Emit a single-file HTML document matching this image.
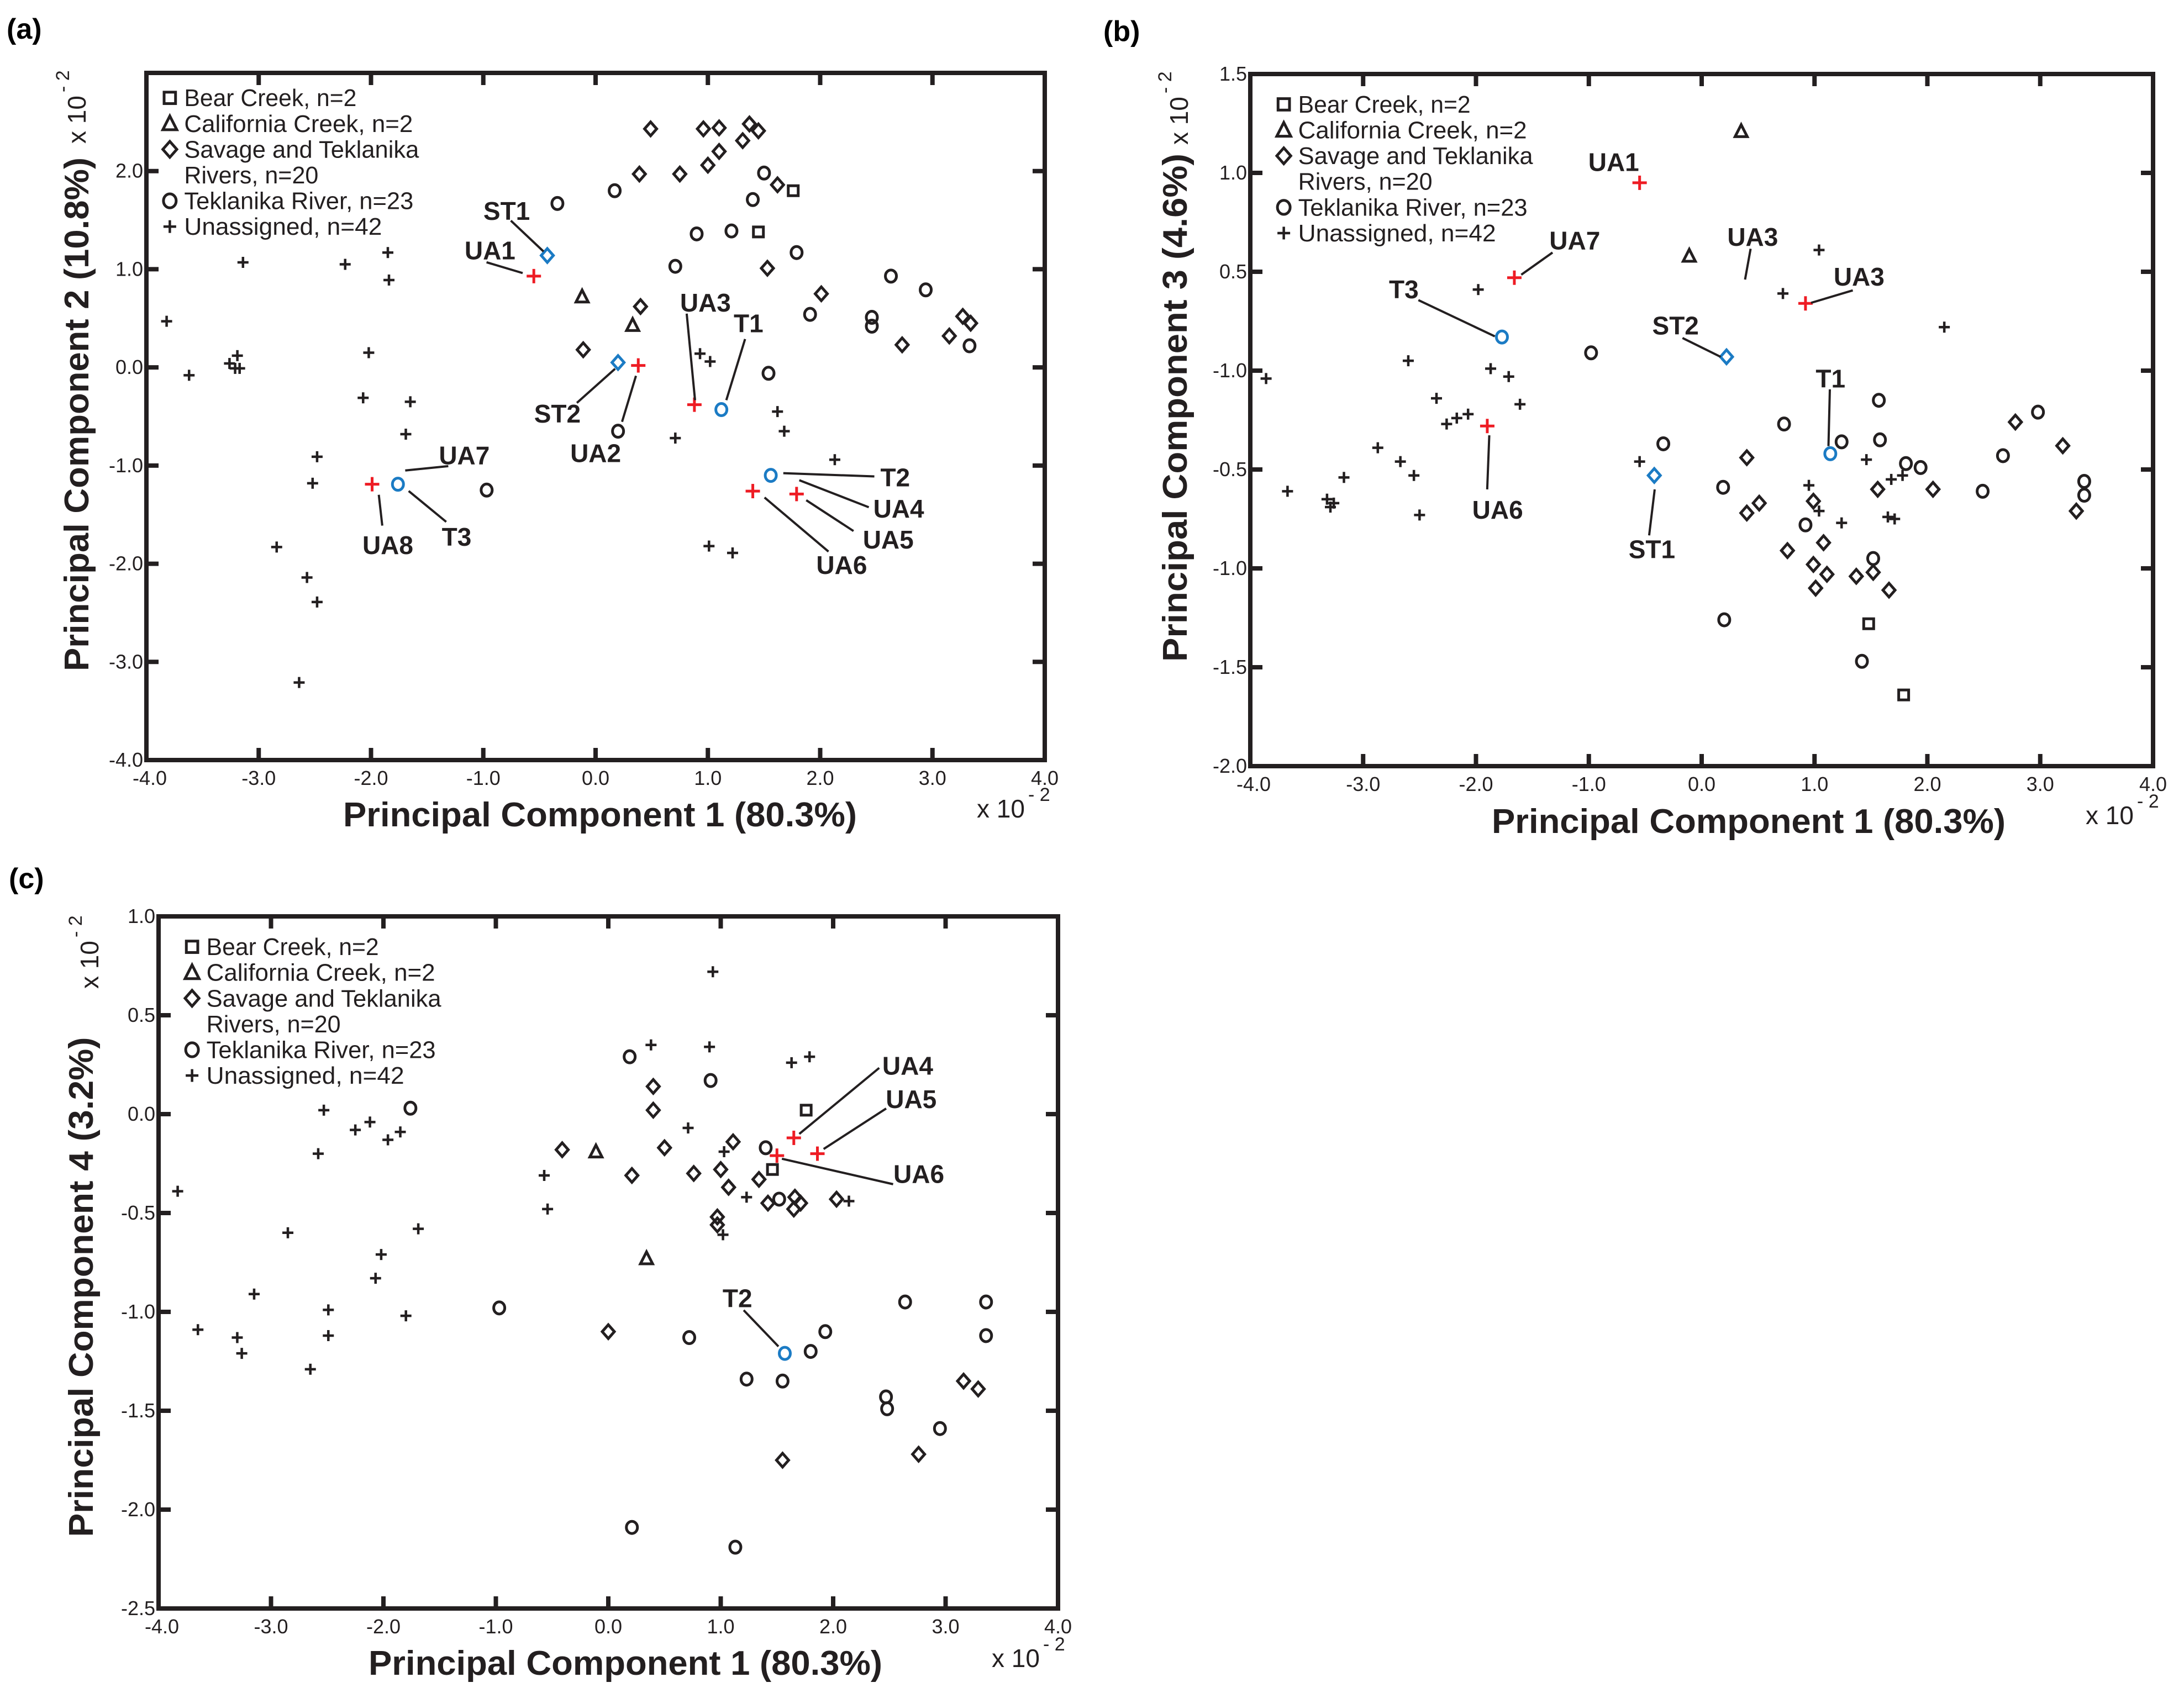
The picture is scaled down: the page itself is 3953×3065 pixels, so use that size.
<!DOCTYPE html>
<html><head><meta charset="utf-8"><style>
html,body{margin:0;padding:0;background:#fff}
svg{display:block}
</style></head><body>
<svg id="fig" width="3953" height="3065" viewBox="0 0 3953 3065" xmlns="http://www.w3.org/2000/svg" font-family="'Liberation Sans', sans-serif"></svg>
<script>
// ---------- Panel (a): PC1 vs PC2 ----------
const aPlus=[[-3.82,0.47],[-3.62,-0.08],[-3.14,1.07],[-3.26,0.04],[-3.19,0.12],[-3.21,-0.01],[-3.17,-0.01],[-2.23,1.05],[-1.85,1.17],[-1.84,0.89],[-2.02,0.15],[-2.07,-0.31],[-1.65,-0.35],[-1.69,-0.68],[-2.48,-0.91],[-2.52,-1.18],[-2.84,-1.83],[-2.57,-2.14],[-2.48,-2.39],[-2.64,-3.21],[0.93,0.14],[1.02,0.06],[0.71,-0.72],[1.62,-0.45],[1.68,-0.65],[2.13,-0.94],[1.01,-1.82],[1.22,-1.89]];
const aRed=[[-0.55,0.93],[0.38,0.02],[0.88,-0.38],[-1.99,-1.19],[1.40,-1.26],[1.79,-1.29]];
const aCircle=[[-0.34,1.67],[0.17,1.80],[0.90,1.36],[1.21,1.39],[0.71,1.03],[1.50,1.98],[1.40,1.71],[1.79,1.17],[1.91,0.54],[2.46,0.51],[2.46,0.42],[2.63,0.93],[2.94,0.79],[3.33,0.22],[1.54,-0.06],[0.20,-0.65],[-0.97,-1.25]];
const aBlueCircle=[[1.12,-0.43],[1.56,-1.10],[-1.76,-1.19]];
const aDiamond=[[0.49,2.43],[0.96,2.43],[1.10,2.44],[1.37,2.48],[1.45,2.41],[1.31,2.31],[1.10,2.20],[1.00,2.06],[0.39,1.97],[0.75,1.97],[1.62,1.86],[1.53,1.01],[2.01,0.75],[0.40,0.62],[-0.11,0.18],[2.73,0.23],[3.15,0.32],[3.27,0.52],[3.34,0.45]];
const aBlueDiamond=[[-0.43,1.14],[0.20,0.05]];
const aSquare=[[1.76,1.80],[1.45,1.38]];
const aTriangle=[[-0.12,0.72],[0.33,0.43]];
const aYTicks=[2.0,1.0,0.0,-1.0,-2.0,-3.0,-4.0];
const aYTickLabels=['2.0','1.0','0.0','-1.0','-2.0','-3.0','-4.0'];

// ---------- Panel (b): PC1 vs PC3 ----------
const bPlus=[[-3.86,-0.04],[-3.67,-0.61],[-3.32,-0.65],[-3.29,-0.69],[-3.26,-0.67],[-3.17,-0.54],[-2.87,-0.39],[-2.67,-0.46],[-2.55,-0.53],[-2.50,-0.73],[-2.60,0.05],[-2.35,-0.14],[-2.26,-0.27],[-2.17,-0.24],[-2.07,-0.22],[-1.98,0.41],[-1.87,0.01],[-1.71,-0.03],[-1.61,-0.17],[-0.55,-0.46],[0.72,0.39],[1.04,0.61],[2.15,0.22],[0.95,-0.58],[1.04,-0.71],[1.24,-0.77],[1.46,-0.45],[1.68,-0.55],[1.78,-0.53],[1.65,-0.74],[1.71,-0.75]];
const bRed=[[-0.55,0.95],[-1.66,0.47],[0.92,0.34],[-1.90,-0.28]];
const bCircle=[[-0.98,0.09],[0.73,-0.27],[1.57,-0.15],[1.24,-0.36],[1.58,-0.35],[-0.34,-0.37],[0.19,-0.59],[1.81,-0.47],[1.94,-0.49],[0.92,-0.78],[1.52,-0.95],[0.20,-1.26],[1.42,-1.47],[2.67,-0.43],[2.98,-0.21],[2.49,-0.61],[3.39,-0.56],[3.39,-0.63]];
const bBlueCircle=[[-1.77,0.17],[1.14,-0.42]];
const bDiamond=[[0.40,-0.44],[0.40,-0.72],[0.51,-0.67],[0.99,-0.66],[0.76,-0.91],[1.08,-0.87],[0.99,-0.98],[1.11,-1.03],[1.01,-1.10],[1.37,-1.04],[1.52,-1.02],[1.66,-1.11],[1.56,-0.60],[2.05,-0.60],[2.78,-0.26],[3.20,-0.38],[3.32,-0.71]];
const bBlueDiamond=[[0.22,0.07],[-0.42,-0.53]];
const bSquare=[[1.48,-1.28],[1.79,-1.64]];
const bTriangle=[[0.35,1.21],[-0.11,0.58]];
const bYTicks=[1.5,1.0,0.5,0.0,-0.5,-1.0,-1.5,-2.0];
const bYTickLabels=['1.5','1.0','0.5','-1.0','-0.5','-1.0','-1.5','-2.0'];

// ---------- Panel (c): PC1 vs PC4 ----------
const cPlus=[[-3.83,-0.39],[-3.65,-1.09],[-3.30,-1.13],[-3.26,-1.21],[-3.15,-0.91],[-2.85,-0.60],[-2.65,-1.29],[-2.58,-0.20],[-2.53,0.02],[-2.49,-0.99],[-2.49,-1.12],[-2.25,-0.08],[-2.12,-0.04],[-2.07,-0.83],[-2.02,-0.71],[-1.96,-0.13],[-1.85,-0.09],[-1.80,-1.02],[-1.69,-0.58],[-0.57,-0.31],[-0.54,-0.48],[0.38,0.35],[0.90,0.34],[0.93,0.72],[0.71,-0.07],[1.03,-0.19],[1.23,-0.42],[1.02,-0.61],[1.63,0.26],[1.79,0.29],[2.14,-0.44]];
const cRed=[[1.65,-0.12],[1.86,-0.20],[1.50,-0.21]];
const cCircle=[[-1.76,0.03],[0.19,0.29],[0.91,0.17],[1.40,-0.17],[1.52,-0.43],[-0.97,-0.98],[0.72,-1.13],[1.23,-1.34],[1.55,-1.35],[1.80,-1.20],[1.93,-1.10],[2.64,-0.95],[3.36,-0.95],[3.36,-1.12],[2.47,-1.43],[2.48,-1.49],[2.95,-1.59],[0.21,-2.09],[1.13,-2.19]];
const cBlueCircle=[[1.57,-1.21]];
const cDiamond=[[-0.41,-0.18],[0.21,-0.31],[0.40,0.14],[0.40,0.02],[0.50,-0.17],[0.76,-0.30],[1.00,-0.28],[1.07,-0.37],[1.11,-0.14],[1.34,-0.33],[1.42,-0.45],[0.97,-0.52],[0.97,-0.56],[1.66,-0.42],[1.71,-0.45],[1.65,-0.48],[2.03,-0.43],[0.00,-1.10],[1.55,-1.75],[2.76,-1.72],[3.16,-1.35],[3.29,-1.39]];
const cBlueDiamond=[];
const cSquare=[[1.76,0.02],[1.46,-0.28]];
const cTriangle=[[-0.11,-0.19],[0.34,-0.73]];
const cYTicks=[1.0,0.5,0.0,-0.5,-1.0,-1.5,-2.0,-2.5];
const cYTickLabels=['1.0','0.5','0.0','-0.5','-1.0','-1.5','-2.0','-2.5'];

const xTicks=[-4,-3,-2,-1,0,1,2,3,4];
const xTickLabels=['-4.0','-3.0','-2.0','-1.0','0.0','1.0','2.0','3.0','4.0'];

const NS='http://www.w3.org/2000/svg';
const svg=document.getElementById('fig');
const BLUE='#1b7bc4', RED='#ee1c24';
function mk(tag,attrs,parent){const e=document.createElementNS(NS,tag);for(const k in attrs)e.setAttribute(k,attrs[k]);(parent||svg).appendChild(e);return e;}

function drawPanel(cfg){
  const g=mk('g',{});
  
  
  const sx=v=>cfg.L+(v-(-4))/8*(cfg.R-cfg.L);
  const sy=v=>cfg.T+(cfg.ymax-v)/(cfg.ymax-cfg.ymin)*(cfg.B-cfg.T);
  const Z=(zx,zy)=>[cfg.ox+zx*1.258, cfg.oy+zy*0.979];
  const pl=mk('text',{x:cfg.letter[0],y:cfg.letter[1],'font-size':52,'font-weight':'bold'},g);
  pl.textContent='('+cfg.id+')';
  
  
  const box=mk('rect',{x:cfg.L,y:cfg.T,width:cfg.R-cfg.L,height:cfg.B-cfg.T,fill:'none',stroke:'#231f20','stroke-width':8},g);
  
  
  xTicks.forEach((v,i)=>{
    const x=sx(v);
    if(i>0&&i<xTicks.length-1){
      mk('line',{x1:x,y1:cfg.T,x2:x,y2:cfg.T+22,stroke:'#231f20','stroke-width':8},g);
      mk('line',{x1:x,y1:cfg.B,x2:x,y2:cfg.B-22,stroke:'#231f20','stroke-width':8},g);
    }
    const t=mk('text',{x:x+(i==0?6:0),y:cfg.B+45,'font-size':36,'text-anchor':'middle',fill:'#231f20'},g);
    t.textContent=xTickLabels[i];
    
    
  });
  cfg.yt.forEach((v,i)=>{
    const y=sy(v);
    if(v<cfg.ymax-0.01&&v>cfg.ymin+0.01){
      mk('line',{x1:cfg.L,y1:y,x2:cfg.L+22,y2:y,stroke:'#231f20','stroke-width':8},g);
      mk('line',{x1:cfg.R,y1:y,x2:cfg.R-22,y2:y,stroke:'#231f20','stroke-width':8},g);
    }
    const t=mk('text',{x:cfg.L-6,y:y+12,'font-size':36,'text-anchor':'end',fill:'#231f20'},g);
    t.textContent=cfg.ytl[i];
    
    
  });
  const xt=mk('text',{x:cfg.xTitle[0],y:cfg.xTitle[1],'font-size':62,'font-weight':'bold','text-anchor':'middle',textLength:930,lengthAdjust:'spacingAndGlyphs',fill:'#231f20'},g);
  xt.textContent='Principal Component 1 (80.3%)';
  
  
  const yt=mk('text',{x:0,y:0,'font-size':62,'font-weight':'bold','text-anchor':'middle',textLength:cfg.yTitle[2],lengthAdjust:'spacingAndGlyphs',fill:'#231f20',transform:`translate(${cfg.yTitle[0]},${cfg.yTitle[1]}) rotate(-90)`},g);
  yt.textContent=cfg.yTitleText;
  
  
  const ex=mk('text',{x:cfg.xExp[0],y:cfg.xExp[1],'font-size':46,fill:'#231f20'},g);
  ex.innerHTML='x 10<tspan dx="6" dy="-30" font-size="34">- 2</tspan>';
  
  
  const ey=mk('text',{x:0,y:0,'font-size':46,fill:'#231f20',transform:`translate(${cfg.yExp[0]},${cfg.yExp[1]}) rotate(-90)`},g);
  ey.innerHTML='x 10<tspan dx="6" dy="-30" font-size="34">- 2</tspan>';
  
  
  const lg=mk('g',{},g);
  
  
  const legRows=[['square','Bear Creek, n=2',312],['triangle','California Creek, n=2',414],['diamond','Savage and Teklanika',425],[null,'Rivers, n=20',243],['circle','Teklanika River, n=23',415],['plus','Unassigned, n=42',358]];
  legRows.forEach((r,i)=>{
    const [lx,ly]=Z(cfg.leg[0],cfg.leg[1]+i*47.6);
    if(r[0]) marker(lg,r[0],lx-40+14,ly,'#231f20',1.15);
    const t=mk('text',{x:lx,y:ly+15,'font-size':44,textLength:r[2],lengthAdjust:'spacingAndGlyphs',fill:'#231f20'},lg);
    t.textContent=r[1];
    
    
  });
  const series=[['plus',cfg.plus,'#231f20'],['circle',cfg.circle,'#231f20'],['diamond',cfg.diamond,'#231f20'],['square',cfg.square,'#231f20'],['triangle',cfg.triangle,'#231f20'],['circle',cfg.blueCircle,BLUE],['diamond',cfg.blueDiamond,BLUE],['redplus',cfg.red,RED]];
  series.forEach(s=>{
    s[1].forEach(p=>{
      const m=marker(g,s[0],sx(p[0]),sy(p[1]),s[2],1);
      
      
    });
  });
  cfg.ann.forEach(a=>{
    const [x1,y1]=Z(a[3],a[4]),[x2,y2]=Z(a[5],a[6]);
    if(a[3]!==null){
      const ln=mk('line',{x1,y1,x2,y2,stroke:'#231f20','stroke-width':4},g);
      
      
    }
    const [tx,ty]=Z(a[1],a[2]);
    const t=mk('text',{x:tx,y:ty+16,'font-size':46,'font-weight':'bold','text-anchor':'middle',fill:'#231f20'},g);
    t.textContent=a[0];
    
    
  });
}

function marker(parent,type,x,y,color,k){
  const g=mk('g',{stroke:color,fill:'none','stroke-width':5},parent);
  if(type==='plus'){const h=10*k;g.setAttribute('stroke-width',4.5);mk('line',{x1:x-h,y1:y,x2:x+h,y2:y},g);mk('line',{x1:x,y1:y-h,x2:x,y2:y+h},g);}
  else if(type==='redplus'){g.setAttribute('stroke-width',5);const h=13;mk('line',{x1:x-h,y1:y,x2:x+h,y2:y},g);mk('line',{x1:x,y1:y-h,x2:x,y2:y+h},g);}
  else if(type==='circle'){mk('ellipse',{cx:x,cy:y,rx:10*k,ry:11*k},g);}
  else if(type==='diamond'){const w=11*k,h=12.5*k;mk('polygon',{points:`${x},${y-h} ${x+w},${y} ${x},${y+h} ${x-w},${y}`},g);}
  else if(type==='square'){const h=9*k;mk('rect',{x:x-h,y:y-h,width:2*h,height:2*h},g);}
  else if(type==='triangle'){const w=11*k,h=12*k;mk('polygon',{points:`${x},${y-h} ${x+w},${y+h*0.8} ${x-w},${y+h*0.8}`},g);}
  return g;
}

drawPanel({id:'a',L:265,R:1891,T:132,B:1376,ymin:-4,ymax:3,yt:aYTicks,ytl:aYTickLabels,ox:0,oy:0,
  letter:[12,70],xTitle:[1086,1496],yTitle:[160,750,930],yTitleText:'Principal Component 2 (10.8%)',
  xExp:[1768,1480],yExp:[155,260],leg:[265,181],
  plus:aPlus,red:aRed,circle:aCircle,blueCircle:aBlueCircle,diamond:aDiamond,blueDiamond:aBlueDiamond,square:aSquare,triangle:aTriangle,
  ann:[['ST1',729,390,735,408,782,465],['UA1',705,463,700,485,752,505],['UA3',1015,560,988,580,1000,740],['T1',1077,598,1072,627,1045,740],['ST2',802,765,830,745,885,682],['UA2',857,838,895,780,915,695],['UA7',668,842,583,870,645,862],['UA8',558,1008,545,915,550,972],['T3',657,993,588,908,642,965],['T2',1288,883,1127,875,1258,881],['UA4',1293,941,1150,888,1250,938],['UA5',1278,998,1160,925,1228,982],['UA6',1211,1045,1100,920,1192,1020]]});

drawPanel({id:'b',L:2263,R:3897,T:134,B:1387,ymin:-2,ymax:1.5,yt:bYTicks,ytl:bYTickLabels,ox:1976,oy:0,
  letter:[1997,74],xTitle:[3165,1508],yTitle:[2148,738,920],yTitleText:'Principal Component 3 (4.6%)',
  xExp:[3775,1492],yExp:[2150,262],leg:[297,193],
  plus:bPlus,red:bRed,circle:bCircle,blueCircle:bBlueCircle,diamond:bDiamond,blueDiamond:bBlueDiamond,square:bSquare,triangle:bTriangle,
  ann:[['UA1',751,300,null,0,0,0],['UA7',695,445,618,508,663,467],['T3',449,535,470,555,580,622],['UA3',951,438,948,460,940,517],['UA3',1104,512,1035,560,1095,537],['ST2',840,602,850,625,905,660],['T1',1063,700,1062,720,1060,825],['UA6',584,943,572,805,569,905],['ST1',806,1016,810,905,802,990]]});

drawPanel({id:'c',L:287,R:1915,T:1659,B:2912,ymin:-2.5,ymax:1.0,yt:cYTicks,ytl:cYTickLabels,ox:0,oy:1532,
  letter:[16,1608],xTitle:[1132,3032],yTitle:[168,2330,905],yTitleText:'Principal Component 4 (3.2%)',
  xExp:[1795,3018],yExp:[178,1790],leg:[297,186],
  plus:cPlus,red:cRed,circle:cCircle,blueCircle:cBlueCircle,diamond:cDiamond,blueDiamond:cBlueDiamond,square:cSquare,triangle:cTriangle,
  ann:[['UA4',1306,406,1150,532,1265,410],['UA5',1311,468,1185,560,1275,485],['UA6',1322,606,1125,578,1285,625],['T2',1061,836,1070,858,1120,925]]});
</script>
</body></html>
